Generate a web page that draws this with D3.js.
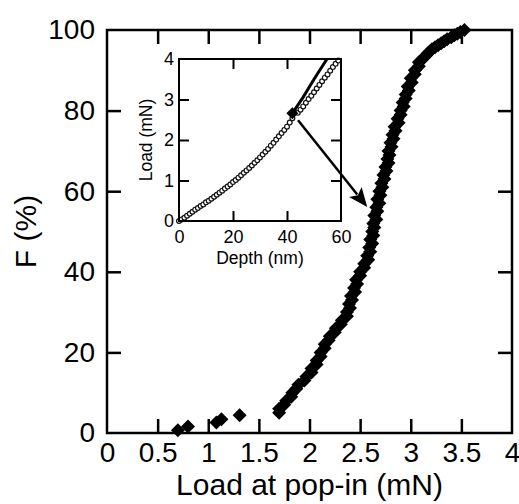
<!DOCTYPE html>
<html>
<head>
<meta charset="utf-8">
<script src="https://cdn.jsdelivr.net/npm/d3@7/dist/d3.min.js"></script>
<style>
  body { margin: 0; background: #fff; }
  text { font-family: "Liberation Sans", Arial, sans-serif; fill: #000; }
</style>
</head>
<body>
<div id="chart"></div>
<script>
const w = 519,
      h = 504;

// scattered early pop-ins
const lowLoad = [0.70, 0.80, 1.08, 1.13, 1.31];
const lowF    = [0.7, 1.6, 2.6, 3.4, 4.4];

// cumulative distribution (load at pop-in, F %)
const mainLoad = [1.70, 1.70, 1.75, 1.77, 1.82, 1.83, 1.87, 1.89, 1.95, 1.97,
                  2.02, 2.02, 2.07, 2.07, 2.11, 2.11, 2.15, 2.15, 2.19, 2.20,
                  2.25, 2.26, 2.31, 2.32, 2.37, 2.37, 2.40, 2.39, 2.42, 2.41,
                  2.45, 2.44, 2.47, 2.46, 2.50, 2.50, 2.54, 2.54, 2.58, 2.57,
                  2.60, 2.59, 2.62, 2.60, 2.63, 2.62, 2.64, 2.63, 2.66, 2.64,
                  2.67, 2.66, 2.69, 2.67, 2.70, 2.69, 2.72, 2.71, 2.74, 2.73,
                  2.76, 2.75, 2.78, 2.77, 2.79, 2.78, 2.81, 2.80, 2.83, 2.82,
                  2.85, 2.84, 2.88, 2.87, 2.90, 2.90, 2.93, 2.92, 2.95, 2.95,
                  2.98, 2.97, 3.01, 3.00, 3.04, 3.04, 3.08, 3.08, 3.11, 3.13,
                  3.15, 3.17, 3.19, 3.21, 3.24, 3.27, 3.30, 3.33, 3.36, 3.40,
                  3.43, 3.46, 3.49, 3.53];
const mainF    = [5, 6, 7, 8, 9, 10, 11, 12, 13, 14,
                  15, 16, 17, 18, 19, 20, 21, 22, 23, 24,
                  25, 26, 27, 28, 29, 30, 31, 32, 33, 34,
                  35, 36, 37, 38, 39, 40, 41, 42, 43, 44,
                  45, 46, 47, 48, 49, 50, 51, 52, 53, 54,
                  55, 56, 57, 58, 59, 60, 61, 62, 63, 64,
                  65, 66, 67, 68, 69, 70, 71, 72, 73, 74,
                  75, 76, 77, 78, 79, 80, 81, 82, 83, 84,
                  85, 86, 87, 88, 89, 90, 91, 92, 92.6, 93.2,
                  93.7, 94.2, 94.7, 95.2, 95.7, 96.2, 96.7, 97.2, 97.7, 98.2,
                  98.7, 99.1, 99.5, 100];

const xTicks = [0, 0.5, 1, 1.5, 2, 2.5, 3, 3.5, 4];
const yTicks = [0, 20, 40, 60, 80, 100];

// inset: load-depth curve
const depthBefore = [0, 1, 2, 3, 4, 5, 6, 7, 8, 9, 10, 11, 12, 13, 14, 15, 16, 17, 18, 19, 20,
                     21, 22, 23, 24, 25, 26, 27, 28, 29, 30, 31, 32, 33, 34, 35, 36, 37, 38, 39, 40, 41, 42];
const loadBefore  = [0.00, 0.04, 0.08, 0.13, 0.18, 0.23, 0.28, 0.32, 0.37, 0.41, 0.46, 0.50, 0.55, 0.60,
                     0.65, 0.70, 0.75, 0.80, 0.85, 0.90, 0.96, 1.01, 1.07, 1.13, 1.19, 1.25, 1.31, 1.37,
                     1.44, 1.50, 1.57, 1.64, 1.71, 1.78, 1.86, 1.93, 2.01, 2.09, 2.17, 2.25, 2.33, 2.43, 2.54];
const depthAfter  = [44, 45, 46, 47, 48, 49, 50, 51, 52, 53, 54, 55, 56, 57, 58, 59];
const loadAfter   = [2.67, 2.75, 2.83, 2.92, 3.01, 3.09, 3.18, 3.27, 3.36, 3.45, 3.54, 3.62, 3.71, 3.80, 3.88, 3.96];
const fitDepth = [42, 46, 50, 54.8];
const fitLoad  = [2.66, 3.06, 3.50, 4.00];
const popIn = [42, 2.66];
const inXTicks = [0, 20, 40, 60];
const inYTicks = [0, 1, 2, 3, 4];

// arrow: from inset (depth, load) to main (load, F)
const arrowFrom = [44.1, 2.49];
const arrowTo   = [2.57, 56.1];

const svg = d3.select('#chart').append('svg')
              .attr('width', w)
              .attr('height', h);

const x = d3.scaleLinear().domain([0, 4]).range([107, 512]);
const y = d3.scaleLinear().domain([0, 100]).range([433, 30]);
const ix = d3.scaleLinear().domain([0, 60]).range([179, 341]);
const iy = d3.scaleLinear().domain([0, 4]).range([221, 59]);

const diamond = r => `M0,${-r}L${r},0L0,${r}L${-r},0Z`;

// ---- main axes ----
const strip = g => { g.select('.domain').remove(); };
const font = size => g => g.selectAll('text')
                           .style('font-size', size + 'px')
                           .style('font-family', '"Liberation Sans", Arial, sans-serif');

// labels
svg.append('g').attr('transform', 'translate(0,433)')
   .call(d3.axisBottom(x).tickValues(xTicks).tickSize(0).tickPadding(9).tickFormat(d3.format('')))
   .call(strip).call(font(28));
svg.append('g').attr('transform', 'translate(107,0)')
   .call(d3.axisLeft(y).tickValues(yTicks).tickSize(0).tickPadding(12))
   .call(strip).call(font(28));

// inward ticks on all four sides
const tickStyle = g => g.selectAll('line').attr('stroke', '#000').attr('stroke-width', 2.5);
const inner = xTicks.slice(1, -1), innerY = yTicks.slice(1, -1);
svg.append('g').attr('transform', 'translate(0,433)')
   .call(d3.axisBottom(x).tickValues(inner).tickSize(-14).tickFormat(''))
   .call(strip).call(tickStyle);
svg.append('g').attr('transform', 'translate(0,30)')
   .call(d3.axisTop(x).tickValues(inner).tickSize(-14).tickFormat(''))
   .call(strip).call(tickStyle);
svg.append('g').attr('transform', 'translate(107,0)')
   .call(d3.axisLeft(y).tickValues(innerY).tickSize(-14).tickFormat(''))
   .call(strip).call(tickStyle);
svg.append('g').attr('transform', 'translate(512,0)')
   .call(d3.axisRight(y).tickValues(innerY).tickSize(-14).tickFormat(''))
   .call(strip).call(tickStyle);

svg.append('rect')
   .attr('x', x(0)).attr('y', y(100))
   .attr('width', x(4) - x(0)).attr('height', y(0) - y(100))
   .attr('fill', 'none').attr('stroke', '#000').attr('stroke-width', 2.5);

svg.append('text')
   .attr('x', (x(0) + x(4)) / 2).attr('y', 495)
   .attr('text-anchor', 'middle').style('font-size', '30px')
   .text('Load at pop-in (mN)');
svg.append('text')
   .attr('transform', `translate(36,${(y(0) + y(100)) / 2}) rotate(-90)`)
   .attr('text-anchor', 'middle').style('font-size', '30px')
   .text('F (%)');

// ---- inset ----
const inset = svg.append('g');
inset.append('rect')
     .attr('x', ix(0)).attr('y', iy(4))
     .attr('width', ix(60) - ix(0)).attr('height', iy(0) - iy(4))
     .attr('fill', '#fff');

const inTick = g => g.selectAll('line').attr('stroke', '#000').attr('stroke-width', 2);
inset.append('g').attr('transform', `translate(0,${iy(0)})`)
     .call(d3.axisBottom(ix).tickValues(inXTicks).tickSize(0).tickPadding(9).tickFormat(d3.format('d')))
     .call(strip).call(font(18));
inset.append('g').attr('transform', `translate(${ix(0)},0)`)
     .call(d3.axisLeft(iy).tickValues(inYTicks).tickSize(0).tickPadding(5).tickFormat(d3.format('d')))
     .call(strip).call(font(18));
const inX = inXTicks.slice(1, -1), inY = inYTicks.slice(1, -1);
inset.append('g').attr('transform', `translate(0,${iy(0)})`)
     .call(d3.axisBottom(ix).tickValues(inX).tickSize(-10).tickFormat(''))
     .call(strip).call(inTick);
inset.append('g').attr('transform', `translate(0,${iy(4)})`)
     .call(d3.axisTop(ix).tickValues(inX).tickSize(-10).tickFormat(''))
     .call(strip).call(inTick);
inset.append('g').attr('transform', `translate(${ix(0)},0)`)
     .call(d3.axisLeft(iy).tickValues(inY).tickSize(-10).tickFormat(''))
     .call(strip).call(inTick);
inset.append('g').attr('transform', `translate(${ix(60)},0)`)
     .call(d3.axisRight(iy).tickValues(inY).tickSize(-10).tickFormat(''))
     .call(strip).call(inTick);

inset.append('text')
     .attr('x', (ix(0) + ix(60)) / 2).attr('y', 264)
     .attr('text-anchor', 'middle').style('font-size', '17.5px')
     .text('Depth (nm)');
inset.append('text')
     .attr('transform', `translate(152,${(iy(0) + iy(4)) / 2}) rotate(-90)`)
     .attr('text-anchor', 'middle').style('font-size', '17.5px')
     .text('Load (mN)');

// fit line
inset.append('path')
     .datum(fitDepth.map((d, i) => [d, fitLoad[i]]))
     .attr('d', d3.line().x(d => ix(d[0])).y(d => iy(d[1])))
     .attr('fill', 'none').attr('stroke', '#000').attr('stroke-width', 3);

// open circles
const circ = depthBefore.map((d, i) => [d, loadBefore[i]])
               .concat(depthAfter.map((d, i) => [d, loadAfter[i]]));
inset.selectAll('circle.pt')
     .data(circ)
     .enter().append('circle')
     .attr('class', 'pt')
     .attr('cx', d => ix(d[0])).attr('cy', d => iy(d[1]))
     .attr('r', 2.4)
     .attr('fill', '#fff').attr('stroke', '#111').attr('stroke-width', 1.2);

inset.append('path')
     .attr('d', diamond(6))
     .attr('transform', `translate(${ix(popIn[0])},${iy(popIn[1])})`)
     .attr('fill', '#000');

inset.append('rect')
     .attr('x', ix(0)).attr('y', iy(4))
     .attr('width', ix(60) - ix(0)).attr('height', iy(0) - iy(4))
     .attr('fill', 'none').attr('stroke', '#000').attr('stroke-width', 2);

// ---- main data ----
const pts = lowLoad.map((d, i) => [d, lowF[i]])
              .concat(mainLoad.map((d, i) => [d, mainF[i]]));
svg.selectAll('path.pt')
   .data(pts)
   .enter().append('path')
   .attr('class', 'pt')
   .attr('d', diamond(7))
   .attr('transform', d => `translate(${x(d[0])},${y(d[1])})`)
   .attr('fill', '#000');

// ---- arrow ----
const ax0 = ix(arrowFrom[0]), ay0 = iy(arrowFrom[1]);
const ax1 = x(arrowTo[0]), ay1 = y(arrowTo[1]);
const ang = Math.atan2(ay1 - ay0, ax1 - ax0);
const headLen = 19, headW = 8;
const bx = ax1 - headLen * Math.cos(ang), by = ay1 - headLen * Math.sin(ang);
svg.append('line')
   .attr('x1', ax0).attr('y1', ay0)
   .attr('x2', bx + 3 * Math.cos(ang)).attr('y2', by + 3 * Math.sin(ang))
   .attr('stroke', '#000').attr('stroke-width', 2.5);
svg.append('path')
   .attr('d', `M${ax1},${ay1}` +
              `L${bx + headW * Math.sin(ang)},${by - headW * Math.cos(ang)}` +
              `L${bx + 4 * Math.cos(ang)},${by + 4 * Math.sin(ang)}` +
              `L${bx - headW * Math.sin(ang)},${by + headW * Math.cos(ang)}Z`)
   .attr('fill', '#000');
</script>
</body>
</html>
